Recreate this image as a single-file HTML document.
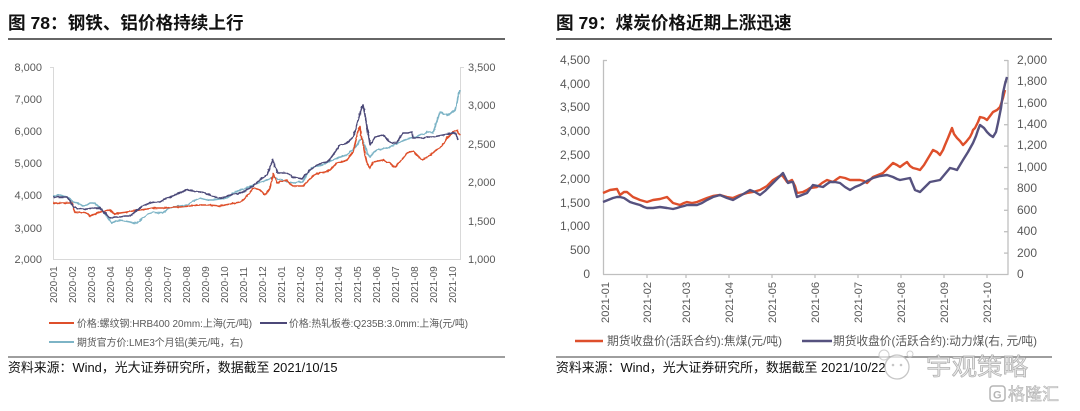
<!DOCTYPE html>
<html><head><meta charset="utf-8"><style>
html,body{margin:0;padding:0;background:#fff;}
svg{display:block;}
text{font-family:"Liberation Sans","Noto Sans CJK SC",sans-serif;}
</style></head><body>
<svg width="1080" height="411" viewBox="0 0 1080 411" xmlns="http://www.w3.org/2000/svg">
<defs>
<filter id="jit" x="-5%" y="-10%" width="110%" height="120%">
<feTurbulence type="fractalNoise" baseFrequency="0.35" numOctaves="1" seed="3" result="n"/>
<feDisplacementMap in="SourceGraphic" in2="n" scale="2.2" xChannelSelector="R" yChannelSelector="G"/>
</filter>
</defs>
<rect width="1080" height="411" fill="#fff"/>

<!-- LEFT PANEL -->
<text x="8" y="29" font-size="17.6" font-weight="bold" fill="#111">图 78：钢铁、铝价格持续上行</text>
<line x1="8" y1="39" x2="505" y2="39" stroke="#333" stroke-width="1.5"/>

<g font-size="11" fill="#595959">
<text x="42" y="71" text-anchor="end">8,000</text>
<text x="42" y="103" text-anchor="end">7,000</text>
<text x="42" y="135" text-anchor="end">6,000</text>
<text x="42" y="167" text-anchor="end">5,000</text>
<text x="42" y="199" text-anchor="end">4,000</text>
<text x="42" y="232" text-anchor="end">3,000</text>
<text x="42" y="263" text-anchor="end">2,000</text>
<text x="468" y="71">3,500</text>
<text x="468" y="109">3,000</text>
<text x="468" y="148">2,500</text>
<text x="468" y="186">2,000</text>
<text x="468" y="225">1,500</text>
<text x="468" y="263">1,000</text>
</g>
<g stroke="#D9D9D9" stroke-width="1" fill="none">
<line x1="53.5" y1="67" x2="53.5" y2="259"/>
<line x1="460.5" y1="67" x2="460.5" y2="259"/>
<line x1="53" y1="259.5" x2="461" y2="259.5"/>
<line x1="50" y1="67.5" x2="53" y2="67.5"/>
<line x1="460" y1="67.5" x2="464" y2="67.5"/>
</g>
<g font-size="10" fill="#595959">
<text transform="translate(57,303) rotate(-90)">2020-01</text>
<text transform="translate(76,303) rotate(-90)">2020-02</text>
<text transform="translate(95,303) rotate(-90)">2020-03</text>
<text transform="translate(114,303) rotate(-90)">2020-04</text>
<text transform="translate(133,303) rotate(-90)">2020-05</text>
<text transform="translate(152,303) rotate(-90)">2020-06</text>
<text transform="translate(171,303) rotate(-90)">2020-07</text>
<text transform="translate(190,303) rotate(-90)">2020-08</text>
<text transform="translate(209,303) rotate(-90)">2020-09</text>
<text transform="translate(228,303) rotate(-90)">2020-10</text>
<text transform="translate(247,303) rotate(-90)">2020-11</text>
<text transform="translate(266,303) rotate(-90)">2020-12</text>
<text transform="translate(285,303) rotate(-90)">2021-01</text>
<text transform="translate(304,303) rotate(-90)">2021-02</text>
<text transform="translate(323,303) rotate(-90)">2021-03</text>
<text transform="translate(342,303) rotate(-90)">2021-04</text>
<text transform="translate(361,303) rotate(-90)">2021-05</text>
<text transform="translate(380,303) rotate(-90)">2021-06</text>
<text transform="translate(399,303) rotate(-90)">2021-07</text>
<text transform="translate(418,303) rotate(-90)">2021-08</text>
<text transform="translate(437,303) rotate(-90)">2021-09</text>
<text transform="translate(456,303) rotate(-90)">2021-10</text>
</g>

<g fill="none" stroke-width="1.6" stroke-linejoin="round" filter="url(#jit)">
<!-- aluminum -->
<polyline stroke="#7DB4C6" points="53,196 60,195 67,197 70,199 73,202 78,203 83,206 87,205 90,203 93,203 97,205 100,208 104,212 107,217 110,221 112,223 116,221 120,220 125,221 130,222 134,223 137,223 140,220 143,218 148,214 153,212 158,213 163,213 168,209 173,207 180,206 187,205 193,201 200,198 207,200 213,200 220,199 227,198 230,196 233,193 240,190 247,188 253,185 260,182 267,180 273,177 278,179 283,180 288,182 293,183 298,182 303,182 308,172 313,167 318,166 323,165 328,162 333,160 340,157 347,155 352,150 357,145 360,140 362,138 365,146 367,153 370,157 374,152 377,150 382,149 387,148 390,147 393,145 397,144 400,142 405,140 410,138 415,137 420,135 424,134 427,132 430,132 433,133 436,124 440,112 444,114 447,115 451,113 455,110 457,103 458,97 460,90"/>
<!-- rebar -->
<polyline stroke="#DE4F2B" points="53,203 72,203 75,213 80,212 87,213 90,216 95,214 100,212 105,211 110,210 113,213 115,214 120,213 127,212 133,211 140,210 147,209 153,208 160,208 167,208 173,207 180,207 190,206 200,205 210,205 220,206 230,204 240,202 244,199 248,195 251,191 253,188 257,189 260,190 263,193 265,195 268,191 270,188 272,180 273,173 275,178 277,183 282,181 287,180 290,184 293,186 298,186 303,186 307,182 312,177 316,174 320,173 325,172 330,170 334,166 337,163 342,162 347,160 350,156 353,152 356,140 358,131 360,127 361,135 363,143 365,155 367,163 370,168 373,162 378,161 383,160 387,162 390,163 393,166 395,167 398,164 400,162 404,157 407,153 410,152 413,151 417,155 420,158 423,160 427,157 430,155 435,151 440,148 444,143 447,138 450,135 453,132 457,130 458,133 460,135"/>
<!-- hot-rolled -->
<polyline stroke="#4C4878" points="53,197 60,197 67,197 70,201 73,207 80,209 87,209 93,208 100,208 105,213 110,218 115,217 120,217 125,216 130,216 135,212 140,208 145,205 150,203 155,202 160,202 165,199 170,197 175,195 180,193 184,191 187,190 193,191 200,192 205,193 210,195 215,197 220,198 225,197 230,195 235,194 240,193 245,191 250,188 255,184 260,180 264,177 267,175 270,167 273,160 275,167 278,173 283,173 287,173 290,175 293,177 298,178 302,179 306,174 310,170 314,167 317,165 322,163 327,162 330,159 333,155 337,149 340,145 344,144 347,143 350,140 353,137 356,128 359,117 361,110 363,105 365,115 367,127 369,138 370,145 373,140 375,137 379,136 383,135 387,139 390,142 394,143 397,143 400,137 403,133 408,133 412,132 413,138 418,138 423,138 428,137 433,137 438,136 443,135 448,134 453,133 456,134 458,140"/>
</g>

<!-- left legend -->
<g font-size="10.2" fill="#595959">
<line x1="49" y1="323" x2="74" y2="323" stroke="#DE4F2B" stroke-width="2"/>
<text x="77" y="327" textLength="175" lengthAdjust="spacingAndGlyphs">价格:螺纹钢:HRB400 20mm:上海(元/吨)</text>
<line x1="260" y1="323" x2="287" y2="323" stroke="#4C4878" stroke-width="2"/>
<text x="289" y="327" textLength="179" lengthAdjust="spacingAndGlyphs">价格:热轧板卷:Q235B:3.0mm:上海(元/吨)</text>
<line x1="49" y1="342" x2="74" y2="342" stroke="#7DB4C6" stroke-width="2"/>
<text x="77" y="346" textLength="166" lengthAdjust="spacingAndGlyphs">期货官方价:LME3个月铝(美元/吨，右)</text>
</g>
<line x1="8" y1="357" x2="505" y2="357" stroke="#7F7F7F" stroke-width="1.5"/>
<text x="8" y="372" font-size="12.9" fill="#111">资料来源：Wind，光大证券研究所，数据截至 2021/10/15</text>

<!-- RIGHT PANEL -->
<text x="556" y="29" font-size="17.6" font-weight="bold" fill="#111">图 79：煤炭价格近期上涨迅速</text>
<line x1="556" y1="39" x2="1052" y2="39" stroke="#333" stroke-width="1.5"/>

<g font-size="12" fill="#595959">
<text x="590" y="64" text-anchor="end">4,500</text>
<text x="590" y="88" text-anchor="end">4,000</text>
<text x="590" y="111" text-anchor="end">3,500</text>
<text x="590" y="135" text-anchor="end">3,000</text>
<text x="590" y="159" text-anchor="end">2,500</text>
<text x="590" y="183" text-anchor="end">2,000</text>
<text x="590" y="207" text-anchor="end">1,500</text>
<text x="590" y="230" text-anchor="end">1,000</text>
<text x="590" y="254" text-anchor="end">500</text>
<text x="590" y="278" text-anchor="end">0</text>
<text x="1017" y="64">2,000</text>
<text x="1017" y="85">1,800</text>
<text x="1017" y="107">1,600</text>
<text x="1017" y="128">1,400</text>
<text x="1017" y="149">1,200</text>
<text x="1017" y="171">1,000</text>
<text x="1017" y="192">800</text>
<text x="1017" y="214">600</text>
<text x="1017" y="235">400</text>
<text x="1017" y="257">200</text>
<text x="1017" y="278">0</text>
</g>
<g stroke="#BFBFBF" stroke-width="1.3" fill="none">
<line x1="603.5" y1="60" x2="603.5" y2="274.5"/>
<line x1="1008" y1="60" x2="1008" y2="274.5"/>
<line x1="603" y1="274.5" x2="1008.5" y2="274.5"/>
<line x1="603" y1="60.5" x2="607" y2="60.5"/>
<line x1="1004" y1="60.5" x2="1008" y2="60.5"/>
<line x1="1004" y1="81.9" x2="1008" y2="81.9"/>
<line x1="1004" y1="103.3" x2="1008" y2="103.3"/>
<line x1="1004" y1="124.7" x2="1008" y2="124.7"/>
<line x1="1004" y1="146.1" x2="1008" y2="146.1"/>
<line x1="1004" y1="167.5" x2="1008" y2="167.5"/>
<line x1="1004" y1="188.9" x2="1008" y2="188.9"/>
<line x1="1004" y1="210.3" x2="1008" y2="210.3"/>
<line x1="1004" y1="231.7" x2="1008" y2="231.7"/>
<line x1="1004" y1="253.1" x2="1008" y2="253.1"/>
<line x1="647" y1="274" x2="647" y2="278"/>
<line x1="686" y1="274" x2="686" y2="278"/>
<line x1="729" y1="274" x2="729" y2="278"/>
<line x1="772" y1="274" x2="772" y2="278"/>
<line x1="815" y1="274" x2="815" y2="278"/>
<line x1="858" y1="274" x2="858" y2="278"/>
<line x1="901" y1="274" x2="901" y2="278"/>
<line x1="944" y1="274" x2="944" y2="278"/>
<line x1="987" y1="274" x2="987" y2="278"/>
</g>
<g font-size="11.2" fill="#595959">
<text transform="translate(609,323) rotate(-90)">2021-01</text>
<text transform="translate(651,323) rotate(-90)">2021-02</text>
<text transform="translate(690,323) rotate(-90)">2021-03</text>
<text transform="translate(733,323) rotate(-90)">2021-04</text>
<text transform="translate(776,323) rotate(-90)">2021-05</text>
<text transform="translate(819,323) rotate(-90)">2021-06</text>
<text transform="translate(862,323) rotate(-90)">2021-07</text>
<text transform="translate(905,323) rotate(-90)">2021-08</text>
<text transform="translate(948,323) rotate(-90)">2021-09</text>
<text transform="translate(991,323) rotate(-90)">2021-10</text>
</g>

<g fill="none" stroke-width="2.4" stroke-linejoin="round">
<!-- coking coal -->
<polyline stroke="#DE4F2B" points="603,193 610,190 617,189 620,195 624,192 627,192 633,197 640,200 647,202 653,200 660,199 667,197 670,200 673,203 680,205 684,203 687,202 692,203 697,202 702,200 707,198 713,196 720,195 727,197 733,198 740,195 747,193 753,192 760,190 767,186 773,180 778,177 782,175 785,179 787,182 790,181 792,180 795,186 797,193 803,192 807,190 810,188 817,187 822,183 827,180 830,181 833,182 837,179 840,177 845,178 850,180 855,180 860,180 864,181 867,183 870,180 873,177 878,175 883,173 888,168 893,163 897,165 900,167 904,164 907,162 910,166 913,168 917,169 920,170 924,165 927,160 930,155 933,150 937,152 940,155 943,150 945,145 948,138 950,133 952,128 954,134 957,138 960,141 963,145 966,142 970,137 972,133 973,130 975,128 978,122 980,117 984,118 987,120 990,116 993,112 997,110 1000,107 1003,98 1005,90"/>
<!-- thermal coal -->
<polyline stroke="#56527F" points="603,202 608,200 613,198 617,197 620,197 624,198 627,200 630,202 633,203 640,205 644,207 647,208 653,208 660,207 667,208 673,209 677,208 680,207 684,206 687,205 692,205 697,205 702,203 707,200 713,197 720,195 727,198 733,200 740,196 745,193 750,190 755,192 760,195 765,191 770,186 773,183 778,178 783,173 786,179 788,183 791,182 793,182 795,190 797,197 802,195 807,193 810,189 813,185 818,186 823,187 827,184 830,182 835,182 840,183 845,187 850,190 855,187 860,185 867,181 873,178 880,176 887,175 890,176 893,177 897,179 900,180 905,179 910,178 912,183 915,190 920,192 925,187 930,182 935,181 940,180 945,174 950,168 954,169 957,170 960,165 963,160 968,152 973,143 976,136 978,130 980,125 984,128 987,132 990,135 993,137 996,132 998,123 1001,108 1003,93 1005,84 1007,77"/>
</g>

<g font-size="12" fill="#595959">
<line x1="575" y1="341" x2="603" y2="341" stroke="#DE4F2B" stroke-width="2.4"/>
<text x="607" y="345" textLength="175" lengthAdjust="spacingAndGlyphs">期货收盘价(活跃合约):焦煤(元/吨)</text>
<line x1="802" y1="341" x2="832" y2="341" stroke="#56527F" stroke-width="2.4"/>
<text x="833" y="345" textLength="204" lengthAdjust="spacingAndGlyphs">期货收盘价(活跃合约):动力煤(右, 元/吨)</text>
</g>
<line x1="556" y1="357" x2="1052" y2="357" stroke="#7F7F7F" stroke-width="1.5"/>
<text x="556" y="372" font-size="12.9" fill="#111">资料来源：Wind，光大证券研究所，数据截至 2021/10/22</text>

<!-- watermark -->
<g opacity="0.85">
<circle cx="897" cy="367" r="12" fill="#fff" fill-opacity="0.8" stroke="#BDBDBD" stroke-width="1.3"/>
<circle cx="893" cy="365" r="1.3" fill="#BDBDBD"/>
<circle cx="901" cy="365" r="1.3" fill="#BDBDBD"/>
<circle cx="884" cy="355" r="5" fill="#fff" fill-opacity="0.7" stroke="#C8C8C8" stroke-width="1.1"/>
<circle cx="910" cy="354" r="3" fill="none" stroke="#C8C8C8" stroke-width="1"/>
<text x="926" y="375" font-size="24" fill="#E6E6E6" stroke="#A0A0A0" stroke-width="0.7" textLength="102" lengthAdjust="spacingAndGlyphs">宇观策略</text>
</g>
<rect x="990" y="386" width="15" height="15" rx="3" fill="none" stroke="#B5B5B5" stroke-width="1.5"/>
<text x="993" y="398.5" font-size="11" font-weight="bold" fill="#B5B5B5">G</text>
<text x="1008" y="400" font-size="17" fill="#EEEEEE" stroke="#AFAFAF" stroke-width="0.6">格隆汇</text>
</svg>
</body></html>
